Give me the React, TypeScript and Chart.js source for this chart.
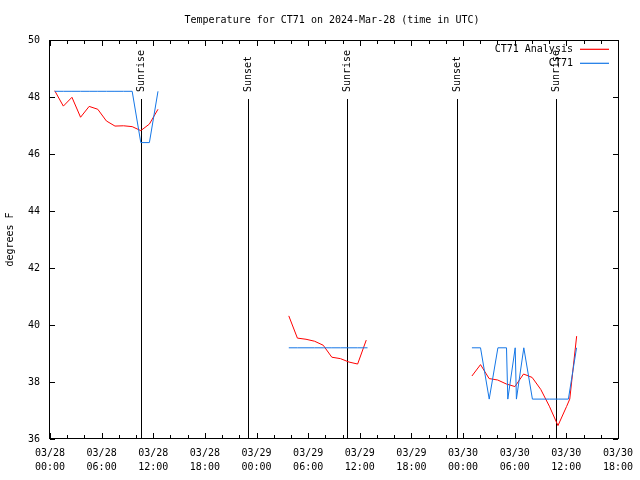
import { useEffect, useRef } from 'react';
import { Chart, registerables } from 'chart.js';

Chart.register(...registerables);

const FONT = '"DejaVu Sans Mono", "Liberation Mono", monospace';
const RED = '#ff0000';
const BLUE = '#1476e6';

const chartTitle = 'Temperature for CT71 on 2024-Mar-28 (time in UTC)';
const yAxisTitle = 'degrees F';
const seriesNames = ['CT71 Analysis', 'CT71'];
const seriesColors = [RED, BLUE];

// x tick labels (every 6 hours from 2024-03-28 00:00 UTC)
const xTickDates = ['03/28', '03/28', '03/28', '03/28', '03/29', '03/29', '03/29', '03/29', '03/30', '03/30', '03/30', '03/30'];
const xTickTimes = ['00:00', '06:00', '12:00', '18:00', '00:00', '06:00', '12:00', '18:00', '00:00', '06:00', '12:00', '18:00'];

// hours since 2024-03-28 00:00 UTC, one array per day segment
const analysisHours = [
  [0.55, 1.55, 2.55, 3.55, 4.55, 5.55, 6.55, 7.55, 8.55, 9.55, 10.55, 11.55, 12.55],
  [27.75, 28.75, 29.75, 30.75, 31.75, 32.75, 33.75, 34.75, 35.75, 36.75],
  [49.03, 50.03, 51.03, 52.03, 53.03, 54.03, 55.03, 56.03, 57.03, 58.03, 59.03, 60.03, 60.4, 61.2],
];
const analysisTemps = [
  [48.22, 47.68, 47.99, 47.29, 47.67, 47.57, 47.16, 46.98, 46.99, 46.96, 46.82, 47.05, 47.57],
  [40.32, 39.54, 39.5, 39.43, 39.29, 38.87, 38.82, 38.7, 38.63, 39.47],
  [38.21, 38.61, 38.12, 38.07, 37.93, 37.84, 38.28, 38.16, 37.74, 37.15, 36.47, 37.14, 37.4, 39.61],
];

const obsHours = [
  [0.55, 1.55, 2.55, 3.55, 4.55, 5.55, 6.55, 7.55, 8.55, 9.55, 10.55, 11.55, 12.55],
  [27.75, 28.75, 29.75, 30.75, 31.75, 32.75, 33.75, 34.75, 35.75, 36.9],
  [49.03, 50.03, 51.04, 52.05, 53.05, 53.2, 54.06, 54.2, 55.06, 56.06, 57.06, 58.06, 59.06, 60.24, 61.19],
];
const obsTemps = [
  [48.2, 48.2, 48.2, 48.2, 48.2, 48.2, 48.2, 48.2, 48.2, 48.2, 46.4, 46.4, 48.2],
  [39.2, 39.2, 39.2, 39.2, 39.2, 39.2, 39.2, 39.2, 39.2, 39.2],
  [39.2, 39.2, 37.4, 39.2, 39.2, 37.4, 39.2, 37.4, 39.2, 37.4, 37.4, 37.4, 37.4, 37.4, 39.2],
];

const sunHours = [10.52, 23.0, 34.49, 47.25, 58.85];
const sunLabels = ['Sunrise', 'Sunset', 'Sunrise', 'Sunset', 'Sunrise'];

const toPoints = (hs: number[], ts: number[]) => hs.map((h, i) => ({ x: h, y: ts[i] }));

const overlay = {
  id: 'overlay',
  beforeDatasetsDraw(chart: any) {
    const { ctx, chartArea, scales } = chart;
    const { top, bottom } = chartArea;
    const xs = scales.x;
    ctx.save();
    ctx.fillStyle = '#000';
    ctx.font = `10px ${FONT}`;
    sunHours.forEach((h, i) => {
      const px = Math.round(xs.getPixelForValue(h));
      ctx.fillRect(px, top + 59, 1, bottom - top - 59);
      ctx.save();
      ctx.translate(px + 0.5, top + 52);
      ctx.rotate(-Math.PI / 2);
      ctx.textAlign = 'left';
      ctx.textBaseline = 'middle';
      ctx.fillText(sunLabels[i], 0, 0);
      ctx.restore();
    });
    ctx.restore();
  },
  afterDraw(chart: any) {
    const { ctx, chartArea, scales } = chart;
    const { left, right, top, bottom } = chartArea;
    const xs = scales.x;
    const ys = scales.y;
    ctx.save();
    ctx.fillStyle = '#000';
    const L = Math.round(left) - 1;
    const R = Math.round(right);
    const T = Math.round(top);
    const B = Math.round(bottom) - 1;
    // frame
    ctx.fillRect(L, T, R - L + 1, 1);
    ctx.fillRect(L, B, R - L + 1, 1);
    ctx.fillRect(L, T, 1, B - T + 1);
    ctx.fillRect(R, T, 1, B - T + 1);
    // ticks
    for (let h = 0; h <= 66; h += 2) {
      const px = Math.round(xs.getPixelForValue(h));
      const len = h % 6 === 0 ? 5 : 3;
      ctx.fillRect(px, B - len, 1, len);
      ctx.fillRect(px, T + 1, 1, len);
    }
    for (let v = 36; v <= 50; v += 2) {
      const py = Math.round(ys.getPixelForValue(v));
      ctx.fillRect(L + 1, py, 5, 1);
      ctx.fillRect(R - 5, py, 5, 1);
    }

    // title
    ctx.font = `10px ${FONT}`;
    ctx.textAlign = 'center';
    ctx.textBaseline = 'middle';
    ctx.fillText(chartTitle, (left + right) / 2 - 2, 20);

    // legend (drawn over the sunrise label, as in the original)
    seriesNames.forEach((name, i) => {
      const y = Math.round(top + 9 + i * 14);
      ctx.fillStyle = '#000';
      ctx.textAlign = 'right';
      ctx.textBaseline = 'middle';
      ctx.fillText(name, right - 45, y);
      ctx.strokeStyle = seriesColors[i];
      ctx.lineWidth = 1.2;
      ctx.beginPath();
      ctx.moveTo(Math.round(right) - 38, y + 0.3);
      ctx.lineTo(Math.round(right) - 9, y + 0.3);
      ctx.stroke();
    });
    ctx.restore();
  },
};

export default function App() {
  const ref = useRef<HTMLCanvasElement>(null);
  useEffect(() => {
    if (!ref.current) return;
    const datasets: any[] = [];
    obsHours.forEach((hs, i) => {
      datasets.push({
        label: seriesNames[1],
        data: toPoints(hs, obsTemps[i]),
        borderColor: BLUE,
        backgroundColor: BLUE,
        borderWidth: 1,
        pointRadius: 0,
        tension: 0,
      });
    });
    analysisHours.forEach((hs, i) => {
      datasets.push({
        label: seriesNames[0],
        data: toPoints(hs, analysisTemps[i]),
        borderColor: RED,
        backgroundColor: RED,
        borderWidth: 1,
        pointRadius: 0,
        tension: 0,
      });
    });
    const chart = new Chart(ref.current, {
      type: 'line',
      data: { datasets },
      plugins: [overlay],
      options: {
        animation: false,
        responsive: false,
        layout: { padding: { top: 40, right: 21, left: 0, bottom: 0 } },
        plugins: {
          legend: { display: false },
          title: { display: false },
          tooltip: { enabled: false },
        },
        scales: {
          x: {
            type: 'linear',
            min: 0,
            max: 66,
            grid: { display: false, drawTicks: false },
            border: { display: false },
            ticks: {
              stepSize: 6,
              autoSkip: false,
              maxRotation: 0,
              padding: 7,
              color: '#000',
              font: { family: FONT, size: 10, lineHeight: 1.4 },
              callback: (v: any) => {
                const i = Math.round(Number(v) / 6);
                return [xTickDates[i], xTickTimes[i]];
              },
            },
            afterFit: (s: any) => {
              s.height = 41;
            },
          },
          y: {
            type: 'linear',
            min: 36,
            max: 50,
            grid: { display: false, drawTicks: false },
            border: { display: false },
            ticks: {
              stepSize: 2,
              padding: 10,
              color: '#000',
              font: { family: FONT, size: 10 },
            },
            title: {
              display: true,
              text: yAxisTitle,
              color: '#000',
              font: { family: FONT, size: 10 },
              padding: { top: 4, bottom: 0 },
            },
            afterFit: (s: any) => {
              s.width = 50;
            },
          },
        },
      },
    });
    return () => chart.destroy();
  }, []);
  return (
    <div style={{ position: 'fixed', left: 0, top: 0, width: 640, height: 480, background: '#fff' }}>
      <canvas ref={ref} width={640} height={480} style={{ display: 'block' }} />
    </div>
  );
}
